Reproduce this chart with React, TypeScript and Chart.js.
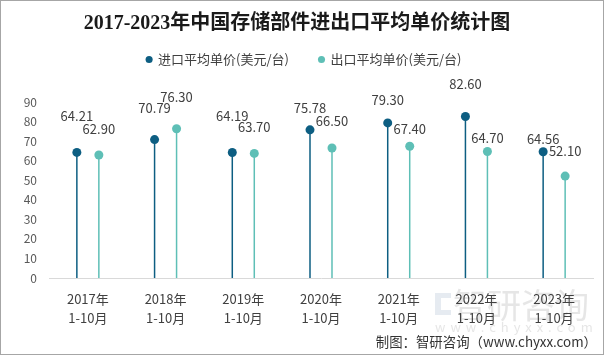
import React, { useEffect, useRef } from "react";
import { Chart, registerables } from "chart.js";

Chart.register(...registerables);

// ---- data ----
const categories: string[][] = [
  ["2017年", "1-10月"],
  ["2018年", "1-10月"],
  ["2019年", "1-10月"],
  ["2020年", "1-10月"],
  ["2021年", "1-10月"],
  ["2022年", "1-10月"],
  ["2023年", "1-10月"],
];
const importPrices = [64.21, 70.79, 64.19, 75.78, 79.3, 82.6, 64.56];
const exportPrices = [62.9, 76.3, 63.7, 66.5, 67.4, 64.7, 52.1];
const seriesNames = ["进口平均单价(美元/台)", "出口平均单价(美元/台)"];
const titleText = "2017-2023年中国存储部件进出口平均单价统计图";
const footerText = "制图：智研咨询（www.chyxx.com）";
const yMin = 0;
const yMax = 90;
const yStep = 10;

// ---- style ----
const COLORS = ["#0d5e82", "#5ebfb6"];
const LABEL_OFFSETS = [
  [36, 32, 36, 22, 23, 32, 13],
  [26, 32, 26, 27, 17, 13, 25],
];
const FONT = '"Noto Sans CJK SC", "Noto Sans", sans-serif';
const TEXT = "#404040";

const lollipopPlugin = {
  id: "lollipop",
  beforeLayout(chart: any) {
    const lg = chart.legend;
    if (lg && !lg._patched) {
      const f = lg.fit;
      lg.fit = function () {
        f.call(this);
        this.height += 23;
      };
      const d = lg.draw;
      lg.draw = function () {
        const c = this.ctx as CanvasRenderingContext2D;
        c.save();
        c.translate(7, -3);
        d.call(this);
        c.restore();
      };
      lg._patched = true;
    }
  },
  beforeDraw(chart: any) {
    const ctx = chart.ctx as CanvasRenderingContext2D;
    ctx.save();
    // watermark
    ctx.fillStyle = "rgba(200,210,225,0.45)";
    ctx.fillRect(434, 292, 6, 22);
    ctx.fillRect(440, 292, 10, 5);
    ctx.fillRect(440, 309, 10, 5);
    ctx.fillStyle = "rgba(205,205,205,0.5)";
    ctx.font = `34px ${FONT}`;
    ctx.textAlign = "left";
    ctx.textBaseline = "middle";
    ctx.fillText("智研咨询", 452, 304);
    ctx.font = `13px ${FONT}`;
    (ctx as any).letterSpacing = "5px";
    ctx.fillText("www.chyxx.com", 434, 326);
    (ctx as any).letterSpacing = "0px";
    ctx.restore();
  },
  afterDatasetsDraw(chart: any) {
    const ctx = chart.ctx as CanvasRenderingContext2D;
    ctx.save();
    chart.data.datasets.forEach((ds: any, di: number) => {
      const meta = chart.getDatasetMeta(di);
      meta.data.forEach((el: any, i: number) => {
        const { x, y } = el.getProps(["x", "y"], true);
        ctx.beginPath();
        ctx.fillStyle = COLORS[di];
        ctx.arc(x, y, 4.5, 0, Math.PI * 2);
        ctx.fill();
        ctx.fillStyle = TEXT;
        ctx.font = `13px ${FONT}`;
        ctx.textAlign = "center";
        ctx.textBaseline = "middle";
        ctx.fillText(Number(ds.data[i]).toFixed(2), x, y - LABEL_OFFSETS[di][i]);
      });
    });
    ctx.restore();
  },
  afterDraw(chart: any) {
    const ctx = chart.ctx as CanvasRenderingContext2D;
    ctx.save();
    ctx.fillStyle = "#333333";
    ctx.font = `13.4px ${FONT}`;
    ctx.textAlign = "right";
    ctx.textBaseline = "middle";
    ctx.fillText(footerText, 596, 341);
    ctx.restore();
  },
};

export default function App() {
  const ref = useRef<HTMLCanvasElement>(null);
  useEffect(() => {
    const chart = new Chart(ref.current!, {
      type: "bar",
      data: {
        labels: categories,
        datasets: [
          {
            label: seriesNames[0],
            data: importPrices,
            backgroundColor: COLORS[0],
            borderColor: COLORS[0],
            borderWidth: 0,
            categoryPercentage: 0.566,
            barPercentage: 1,
            maxBarThickness: 1.5,
          },
          {
            label: seriesNames[1],
            data: exportPrices,
            backgroundColor: COLORS[1],
            borderColor: COLORS[1],
            borderWidth: 0,
            categoryPercentage: 0.566,
            barPercentage: 1,
            maxBarThickness: 1.5,
          },
        ],
      },
      options: {
        responsive: false,
        animation: false,
        devicePixelRatio: 1,
        layout: { padding: { top: 0, left: 0, right: 10, bottom: 26 } },
        plugins: {
          title: {
            display: true,
            text: titleText,
            color: "#1a1a1a",
            font: { family: '"Liberation Serif", "Noto Sans CJK SC", serif', size: 20, weight: "bold" },
            padding: { top: 11, bottom: -10 },
          },
          legend: {
            display: true,
            position: "top",
            labels: {
              usePointStyle: true,
              pointStyle: "circle",
              boxWidth: 5,
              boxHeight: 5,
              padding: 30,
              color: TEXT,
              font: { family: FONT, size: 13 },
            },
          },
          tooltip: { enabled: false },
        },
        scales: {
          x: {
            grid: { display: false, drawTicks: false },
            border: { display: true, color: "#d9d9d9", width: 1 },
            ticks: {
              color: TEXT,
              font: { family: FONT, size: 13, lineHeight: 1.5 },
              padding: 11,
              maxRotation: 0,
              autoSkip: false,
            },
            afterFit(scale: any) {
              scale.height = 50;
            },
          },
          y: {
            min: yMin,
            max: yMax,
            grid: { display: false, drawTicks: false },
            border: { display: false },
            ticks: {
              stepSize: yStep,
              color: "#595959",
              font: { family: FONT, size: 12 },
              padding: 12,
            },
            afterFit(scale: any) {
              scale.width = 48;
            },
          },
        },
      },
      plugins: [lollipopPlugin as any],
    } as any);
    return () => chart.destroy();
  }, []);
  return (
    <div
      style={{
        position: "absolute",
        left: 0,
        top: 0,
        width: 604,
        height: 355,
        boxSizing: "border-box",
        border: "1px solid #a6a6a6",
        background: "#ffffff",
      }}
    >
      <canvas ref={ref} width={602} height={353} style={{ display: "block", width: 602, height: 353 }} />
    </div>
  );
}
